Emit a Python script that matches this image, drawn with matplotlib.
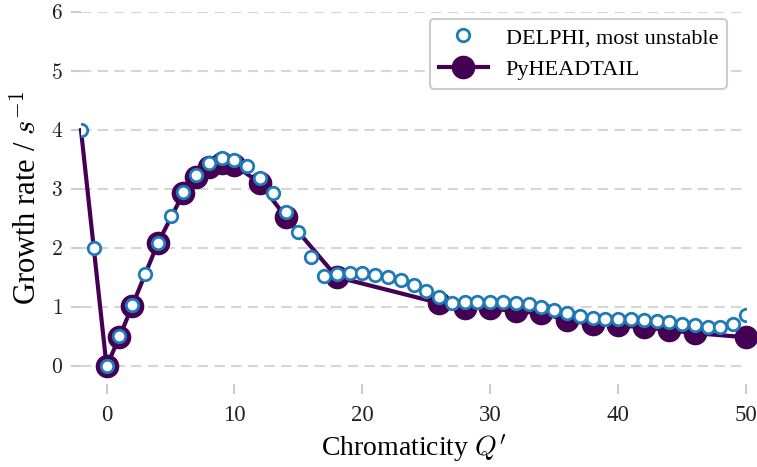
import matplotlib
matplotlib.use('Agg')
import matplotlib.pyplot as plt

plt.rcParams['font.family'] = ['Liberation Serif', 'DejaVu Serif']
plt.rcParams['mathtext.fontset'] = 'cm'

# DELPHI, most unstable mode (one point per integer chromaticity)
delphi_q = list(range(-2, 51))
delphi_rate = [4.0, 2.0, 0.0, 0.51, 1.03, 1.57, 2.08, 2.55, 2.95, 3.24,
               3.44, 3.53, 3.50, 3.39, 3.19, 2.94, 2.61, 2.27, 1.85, 1.53,
               1.57, 1.58, 1.58, 1.55, 1.51, 1.46, 1.37, 1.28, 1.17, 1.07,
               1.08, 1.09, 1.09, 1.09, 1.07, 1.05, 1.00, 0.95, 0.90, 0.85,
               0.81, 0.80, 0.80, 0.80, 0.78, 0.76, 0.75, 0.72, 0.70, 0.66,
               0.66, 0.72, 0.86]

# PyHEADTAIL simulations (first point only anchors the line)
pyht_q = [-2, 0, 1, 2, 4, 6, 7, 8, 9, 10, 12, 14, 18, 26, 28, 30, 32, 34,
          36, 38, 40, 42, 44, 46, 50]
pyht_rate = [4.0, 0.0, 0.49, 1.02, 2.08, 2.93, 3.20, 3.38, 3.44, 3.41,
             3.10, 2.53, 1.51, 1.07, 0.99, 0.98, 0.93, 0.90, 0.78, 0.71,
             0.69, 0.66, 0.61, 0.56, 0.49]

yticks = [0, 1, 2, 3, 4, 5, 6]
xticks = [0, 10, 20, 30, 40, 50]

fig = plt.figure(figsize=(7.57, 4.67), dpi=100)
ax = fig.add_axes([0.107, 0.178, 0.8785, 0.796])

ax.plot(pyht_q, pyht_rate, color='#440154', lw=3, marker='o', ms=16,
        markevery=list(range(1, len(pyht_q))), label='PyHEADTAIL',
        zorder=3, clip_on=False)
ax.plot(delphi_q, delphi_rate, ls='none', marker='o', ms=9,
        mfc='white', mec='#1f7ab8', mew=2, label='DELPHI, most unstable',
        zorder=4)

ax.set_xlim(-2, 50)
ax.set_ylim(-0.3, 6)
ax.set_xticks(xticks)
ax.set_xticklabels([str(t) for t in xticks])
ax.set_yticks(yticks)
ax.set_yticklabels(['$%d$' % t for t in yticks])

for s in ax.spines.values():
    s.set_visible(False)
ax.grid(axis='y', color='#d6d6d6', ls=(0, (5, 3)), lw=1.5)
ax.set_axisbelow(True)
ax.tick_params(axis='both', colors='#cccccc', width=1.5, length=7,
               labelcolor='#222222')
ax.tick_params(axis='x', pad=8, labelsize=16.5)
ax.tick_params(axis='y', pad=6, labelsize=15.5)

ax.set_xlabel("Chromaticity $Q'$", fontsize=20, labelpad=5)
ax.set_ylabel('Growth rate / $s^{-1}$', fontsize=22, labelpad=6)

handles, labels = ax.get_legend_handles_labels()
leg = ax.legend(handles[::-1], labels[::-1], loc='upper right', fontsize=16,
                frameon=True, fancybox=True, framealpha=1,
                borderpad=0.4, handlelength=2.2, bbox_to_anchor=(0.988, 1.012))
leg.get_frame().set_edgecolor('#cccccc')
leg.get_frame().set_linewidth(1.5)

fig.savefig('out.png', dpi=100)
